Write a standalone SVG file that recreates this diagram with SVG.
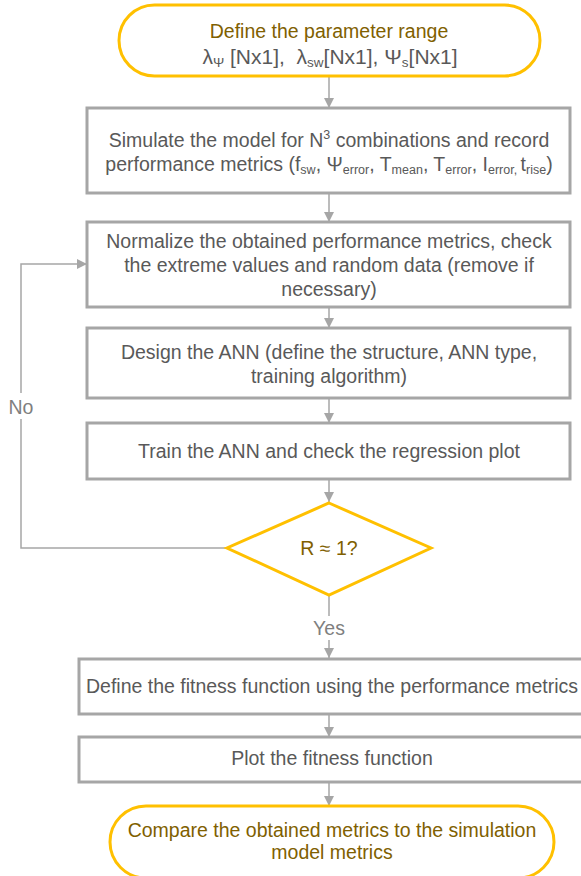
<svg xmlns="http://www.w3.org/2000/svg" width="581" height="876" viewBox="0 0 581 876">
  <defs>
    <marker id="arrow" viewBox="0 0 10 10" refX="10" refY="5" markerWidth="10" markerHeight="10" markerUnits="userSpaceOnUse" orient="auto">
      <path d="M0,0 L10,5 L0,10 Z" fill="#A6A6A6"/>
    </marker>
    <style>
      .term { fill: #FFFFFF; stroke: #FFC000; stroke-width: 3; }
      .box { fill: #FFFFFF; stroke: #A6A6A6; stroke-width: 3; }
      .dec { fill: #FFFFFF; stroke: #FFC000; stroke-width: 3; }
      .conn { fill: none; stroke: #A6A6A6; stroke-width: 1.5; }
      .txt { font-family: "Liberation Sans", Arial, sans-serif; font-size: 19.5px; fill: #595959; text-anchor: middle; }
      .gold { fill: #806000; }
      .lbl { font-family: "Liberation Sans", Arial, sans-serif; font-size: 19.5px; fill: #7F7F7F; text-anchor: middle; }
      .sub { font-size: 12.5px; }
      .params { font-size: 21px; white-space: pre; }
      .params .sub { font-size: 13.5px; }
    </style>
  </defs>

  <g id="connectors">
    <line class="conn" x1="329" y1="77" x2="329" y2="108" marker-end="url(#arrow)"/>
    <line class="conn" x1="329" y1="193" x2="329" y2="222" marker-end="url(#arrow)"/>
    <line class="conn" x1="329" y1="307" x2="329" y2="328" marker-end="url(#arrow)"/>
    <line class="conn" x1="329" y1="398" x2="329" y2="423" marker-end="url(#arrow)"/>
    <line class="conn" x1="329" y1="479" x2="329" y2="502" marker-end="url(#arrow)"/>
    <line class="conn" x1="329" y1="595" x2="329" y2="616"/>
    <line class="conn" x1="329" y1="640" x2="329" y2="658" marker-end="url(#arrow)"/>
    <line class="conn" x1="329" y1="714" x2="329" y2="737" marker-end="url(#arrow)"/>
    <line class="conn" x1="329" y1="782" x2="329" y2="806" marker-end="url(#arrow)"/>
    <!-- "No" feedback loop back to the normalisation step -->
    <polyline class="conn" points="227,548 21,548 21,419"/>
    <polyline class="conn" points="21,393 21,264 87,264" marker-end="url(#arrow)"/>
    <text class="lbl" x="21" y="414">No</text>
    <text class="lbl" x="329" y="635">Yes</text>
  </g>

  <g id="start">
    <rect class="term" x="119" y="5" width="421" height="71" rx="35.5"/>
    <text class="txt gold" x="329" y="38">Define the parameter range</text>
    <text class="txt params" x="330" y="64" xml:space="preserve">λ<tspan class="sub" dy="3">Ψ</tspan><tspan dy="-3"> [Nx1],  λ</tspan><tspan class="sub" dy="3">sw</tspan><tspan dy="-3">[Nx1], Ψ</tspan><tspan class="sub" dy="3">s</tspan><tspan dy="-3">[Nx1]</tspan></text>
  </g>

  <g id="simulate">
    <rect class="box" x="87" y="108" width="483" height="85"/>
    <text class="txt" x="329" y="147">Simulate the model for N<tspan class="sub" dy="-8">3</tspan><tspan dy="8"> combinations and record</tspan></text>
    <text class="txt" x="329" y="171">performance metrics (f<tspan class="sub" dy="3">sw</tspan><tspan dy="-3">, Ψ</tspan><tspan class="sub" dy="3">error</tspan><tspan dy="-3">, T</tspan><tspan class="sub" dy="3">mean</tspan><tspan dy="-3">, T</tspan><tspan class="sub" dy="3">error</tspan><tspan dy="-3">, I</tspan><tspan class="sub" dy="3">error, </tspan><tspan dy="-3">t</tspan><tspan class="sub" dy="3">rise</tspan><tspan dy="-3">)</tspan></text>
  </g>

  <g id="normalize">
    <rect class="box" x="87" y="222" width="483" height="85"/>
    <text class="txt" x="329" y="248">Normalize the obtained performance metrics, check</text>
    <text class="txt" x="329" y="272">the extreme values and random data (remove if</text>
    <text class="txt" x="329" y="296">necessary)</text>
  </g>

  <g id="design-ann">
    <rect class="box" x="87" y="328" width="483" height="70"/>
    <text class="txt" x="329" y="359">Design the ANN (define the structure, ANN type,</text>
    <text class="txt" x="329" y="383">training algorithm)</text>
  </g>

  <g id="train-ann">
    <rect class="box" x="87" y="423" width="483" height="56"/>
    <text class="txt" x="329" y="458">Train the ANN and check the regression plot</text>
  </g>

  <g id="decision">
    <polygon class="dec" points="329,503 431,548 329,595 227,548"/>
    <text class="txt gold" x="329" y="555">R ≈ 1?</text>
  </g>

  <g id="fitness">
    <rect class="box" x="79" y="659" width="520" height="55"/>
    <text class="txt" x="332" y="693">Define the fitness function using the performance metrics</text>
  </g>

  <g id="plot">
    <rect class="box" x="79" y="737" width="520" height="45"/>
    <text class="txt" x="332" y="765">Plot the fitness function</text>
  </g>

  <g id="end">
    <rect class="term" x="110" y="806" width="444" height="72" rx="36"/>
    <text class="txt gold" x="332" y="837">Compare the obtained metrics to the simulation</text>
    <text class="txt gold" x="332" y="859">model metrics</text>
  </g>
</svg>
